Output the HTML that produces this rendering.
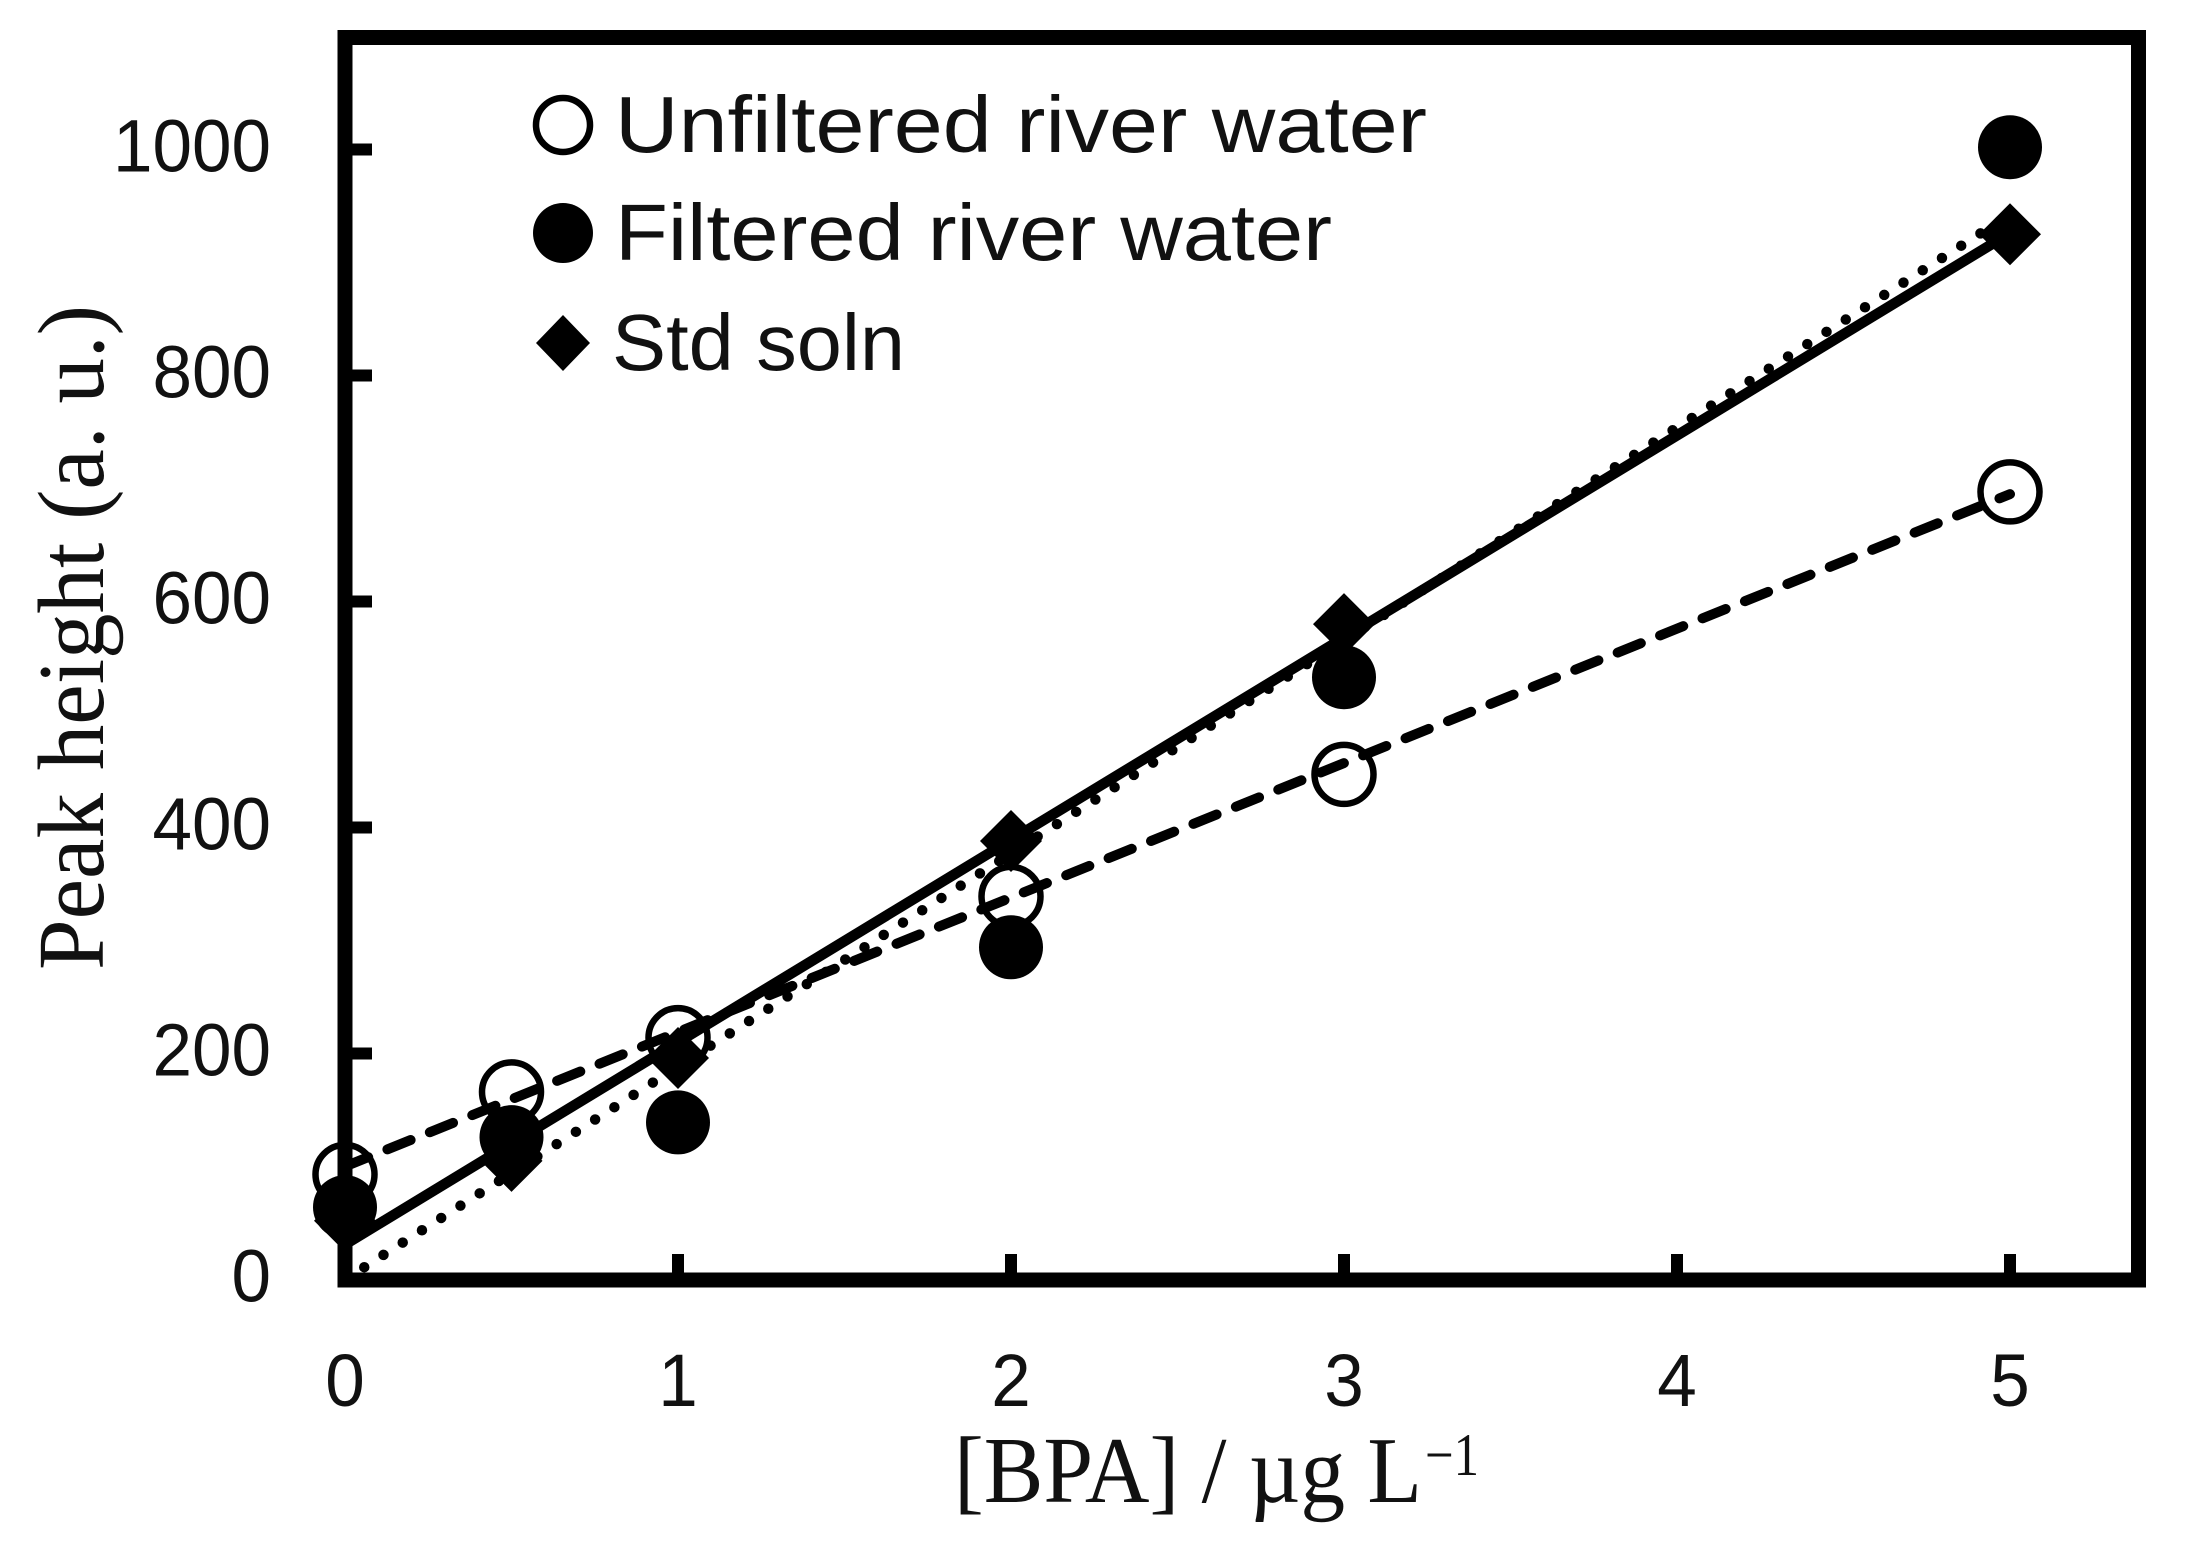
<!DOCTYPE html>
<html lang="en">
<head>
<meta charset="utf-8">
<title>Peak height vs BPA concentration</title>
<style>
html,body{margin:0;padding:0;background:#fff;width:2186px;height:1553px;overflow:hidden}
svg{display:block}
.tick{font-family:"Liberation Sans",sans-serif;font-size:74px;fill:#111}
.legend{font-family:"Liberation Sans",sans-serif;font-size:80px;fill:#111}
.title{font-family:"Liberation Serif",serif;font-size:94px;fill:#111}
</style>
</head>
<body>
<svg id="chart" xmlns="http://www.w3.org/2000/svg" width="2186" height="1553" viewBox="0 0 2186 1553">
  <rect x="0" y="0" width="2186" height="1553" fill="#fff"/>
  <g id="lines"></g>
  <g id="marks"></g>
  <rect x="345" y="37.5" width="1793.5" height="1242.5" fill="none" stroke="#000" stroke-width="15"/>
  <g id="ticks"></g>
  <text class="title" transform="translate(103 970) rotate(-90)" textLength="665" lengthAdjust="spacingAndGlyphs">Peak height (a. u.)</text>
  <text class="title" x="954" y="1502" textLength="468" lengthAdjust="spacingAndGlyphs">[BPA] / µg L</text>
  <text class="title" style="font-size:60px" x="1425" y="1475" textLength="54" lengthAdjust="spacingAndGlyphs">−1</text>
  <g>
    <circle cx="563" cy="125" r="27" fill="#fff" stroke="#000" stroke-width="6.5"/>
    <text class="legend" x="615" y="152" textLength="812" lengthAdjust="spacingAndGlyphs">Unfiltered river water</text>
    <circle cx="563" cy="233" r="30" fill="#000"/>
    <text class="legend" x="615" y="260" textLength="717" lengthAdjust="spacingAndGlyphs">Filtered river water</text>
    <polygon points="563,315 590,343 563,371 536,343" fill="#000"/>
    <text class="legend" x="612" y="370" textLength="293" lengthAdjust="spacingAndGlyphs">Std soln</text>
  </g>
</svg>
<script>
const xCategories = [0, 0.5, 1, 2, 3, 5];
const unfilteredValues = [93, 166, 214, 339, 447, 697];
const filteredValues = [64, 126, 139, 294, 533, 1002];
const stdValues = [52, 105, 196, 388, 580, 925];
const xTickLabels = [0, 1, 2, 3, 4, 5];
const yTickLabels = [0, 200, 400, 600, 800, 1000];
const unfilteredFit = [100, 119];
const filteredFit = [0, 188.5];
const stdFit = [31, 179];

const SVG_NS = 'http://www.w3.org/2000/svg';
const xScale = function (v) { return 345 + 333 * v; };
const yScale = function (v) { return 1279.5 - 1.13 * v; };

const linesGroup = document.getElementById('lines');
const marksGroup = document.getElementById('marks');
const ticksGroup = document.getElementById('ticks');

function drawFit(fit, name, width, dash) {
  const line = document.createElementNS(SVG_NS, 'line');
  
  
  line.setAttribute('x1', xScale(0));
  line.setAttribute('y1', yScale(fit[0]));
  line.setAttribute('x2', xScale(5));
  line.setAttribute('y2', yScale(fit[0] + fit[1] * 5));
  line.setAttribute('stroke', '#000');
  line.setAttribute('stroke-width', width);
  if (dash) {
    line.setAttribute('stroke-dasharray', dash);
    line.setAttribute('stroke-linecap', 'round');
  }
  linesGroup.appendChild(line);
}
drawFit(stdFit, 'std-soln-fit-line', 10.5, null);
drawFit(unfilteredFit, 'unfiltered-fit-line', 10, '25 20.75');
drawFit(filteredFit, 'filtered-fit-line', 10.5, '0 22.84');

unfilteredValues.forEach(function (v, i) {
  const c = document.createElementNS(SVG_NS, 'circle');
  
  
  c.setAttribute('cx', xScale(xCategories[i]));
  c.setAttribute('cy', yScale(v));
  c.setAttribute('r', 29.5);
  c.setAttribute('fill', 'none');
  c.setAttribute('stroke', '#000');
  c.setAttribute('stroke-width', 6.5);
  marksGroup.appendChild(c);
});
filteredValues.forEach(function (v, i) {
  const c = document.createElementNS(SVG_NS, 'circle');
  
  
  c.setAttribute('cx', xScale(xCategories[i]));
  c.setAttribute('cy', yScale(v));
  c.setAttribute('r', 32);
  c.setAttribute('fill', '#000');
  marksGroup.appendChild(c);
});
stdValues.forEach(function (v, i) {
  const cx = xScale(xCategories[i]);
  const cy = yScale(v);
  const d = document.createElementNS(SVG_NS, 'polygon');
  
  
  d.setAttribute('points', [cx, cy - 31, cx + 31, cy, cx, cy + 31, cx - 31, cy].join(' '));
  d.setAttribute('fill', '#000');
  marksGroup.appendChild(d);
});

xTickLabels.forEach(function (v) {
  const x = xScale(v);
  if (v !== 0) {
    const t = document.createElementNS(SVG_NS, 'rect');
    
    
    t.setAttribute('x', x - 6);
    t.setAttribute('y', 1254);
    t.setAttribute('width', 12);
    t.setAttribute('height', 20);
    ticksGroup.appendChild(t);
  }
  const label = document.createElementNS(SVG_NS, 'text');
  
  
  label.setAttribute('class', 'tick');
  label.setAttribute('x', x);
  label.setAttribute('y', 1406);
  label.setAttribute('text-anchor', 'middle');
  label.setAttribute('textLength', 39.5);
  label.setAttribute('lengthAdjust', 'spacingAndGlyphs');
  label.textContent = v;
  ticksGroup.appendChild(label);
});
yTickLabels.forEach(function (v) {
  const y = yScale(v);
  if (v !== 0) {
    const t = document.createElementNS(SVG_NS, 'rect');
    
    
    t.setAttribute('x', 350);
    t.setAttribute('y', y - 6);
    t.setAttribute('width', 22);
    t.setAttribute('height', 12);
    ticksGroup.appendChild(t);
  }
  const label = document.createElementNS(SVG_NS, 'text');
  
  
  label.setAttribute('class', 'tick');
  label.setAttribute('x', 271);
  label.setAttribute('y', y + 22);
  label.setAttribute('text-anchor', 'end');
  label.setAttribute('textLength', 39.5 * String(v).length);
  label.setAttribute('lengthAdjust', 'spacingAndGlyphs');
  label.textContent = v;
  ticksGroup.appendChild(label);
});
</script>
</body>
</html>
